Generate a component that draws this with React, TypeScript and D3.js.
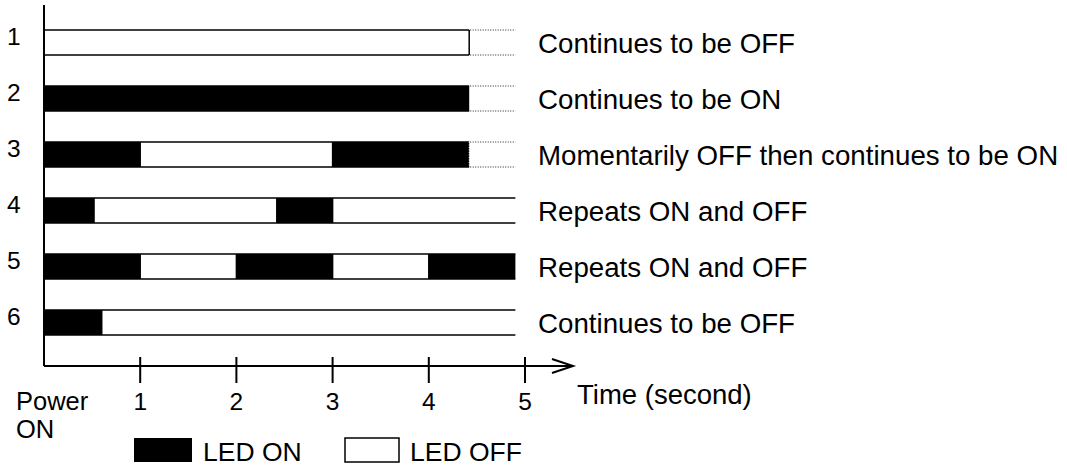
import React from 'react';
import * as d3 from 'd3';

// LED state over time after power on
type State = 'on' | 'off';
type Segment = [number, number, State]; // start sec, end sec, state

const rowLabels = ['1', '2', '3', '4', '5', '6'];

const rowDescriptions = [
  'Continues to be OFF',
  'Continues to be ON',
  'Momentarily OFF then continues to be ON',
  'Repeats ON and OFF',
  'Repeats ON and OFF',
  'Continues to be OFF',
];

const rowSegments: Segment[][] = [
  [[0, 4.42, 'off']],
  [[0, 4.42, 'on']],
  [[0, 1, 'on'], [1, 3, 'off'], [3, 4.42, 'on']],
  [[0, 0.52, 'on'], [0.52, 2.42, 'off'], [2.42, 3, 'on'], [3, 4.9, 'off']],
  [[0, 1, 'on'], [1, 2, 'off'], [2, 3, 'on'], [3, 4, 'off'], [4, 4.9, 'on']],
  [[0, 0.6, 'on'], [0.6, 4.9, 'off']],
];

// rows that "continue" past the last drawn point (dotted extension)
const continues = [true, true, true, false, false, false];
// edge drawn at the end of a continuing row
const endEdge: ('solid' | 'dotted' | 'none')[] = ['solid', 'none', 'dotted', 'none', 'none', 'none'];

const windowEnd = 4.9;
const timeTicks = [1, 2, 3, 4, 5];

const FONT = 'Liberation Sans, Arial, Helvetica, sans-serif';

export default function App() {
  const width = 1067;
  const height = 466;
  const x0 = 44;
  const axisY = 366;

  const x = d3.scaleLinear().domain([0, 5]).range([x0, 525]);
  const y = d3
    .scaleBand<string>()
    .domain(rowLabels)
    .range([30 - 15.5, 30 - 15.5 + 56 * 6])
    .paddingInner(31 / 56)
    .paddingOuter(15.5 / 56);

  const bh = y.bandwidth();

  return (
    <svg
      width={width}
      height={height}
      style={{ position: 'absolute', left: 0, top: 0, background: '#fff' }}
      fontFamily={FONT}
    >
      {rowLabels.map((lab, i) => {
        const top = y(lab)!;
        const bottom = top + bh;
        const cy = top + bh / 2;
        const segs = rowSegments[i];
        const last = segs[segs.length - 1][1];
        return (
          <g key={lab}>
            <text x={7} y={cy + 2} fontSize={24.5}>
              {lab}
            </text>
            {segs.map(([s, e, st], j) => (
              <rect
                key={j}
                x={x(s)}
                y={top}
                width={x(e) - x(s)}
                height={bh}
                fill={st === 'on' ? '#000' : '#fff'}
              />
            ))}
            {/* top / bottom edges */}
            <line x1={x(0)} x2={x(last)} y1={top} y2={top} stroke="#000" strokeWidth={1.5} />
            <line x1={x(0)} x2={x(last)} y1={bottom} y2={bottom} stroke="#000" strokeWidth={1.5} />
            {segs.slice(1).map(([s], j) => (
              <line key={'v' + j} x1={x(s)} x2={x(s)} y1={top} y2={bottom} stroke="#000" strokeWidth={1.5} />
            ))}
            {continues[i] && (
              <g stroke="#222" strokeWidth={1} strokeDasharray="1,1.5">
                <line x1={x(last) + 1} x2={x(windowEnd)} y1={top} y2={top} />
                <line x1={x(last) + 1} x2={x(windowEnd)} y1={bottom} y2={bottom} />
              </g>
            )}
            {endEdge[i] === 'solid' && (
              <line x1={x(last)} x2={x(last)} y1={top} y2={bottom} stroke="#000" strokeWidth={1.5} />
            )}
            {endEdge[i] === 'dotted' && (
              <line
                x1={x(last)}
                x2={x(last)}
                y1={top}
                y2={bottom}
                stroke="#fff"
                strokeWidth={1}
                strokeDasharray="1,1.5"
              />
            )}
            <text x={538} y={cy + 10} fontSize={27.7}>
              {rowDescriptions[i]}
            </text>
          </g>
        );
      })}

      {/* axes */}
      <line x1={x0} x2={x0} y1={5} y2={axisY} stroke="#000" strokeWidth={2} />
      <line x1={x0} x2={573} y1={axisY} y2={axisY} stroke="#000" strokeWidth={2} />
      <polyline
        points={`552,${axisY - 7} 573,${axisY} 552,${axisY + 7}`}
        fill="none"
        stroke="#000"
        strokeWidth={2}
      />
      {timeTicks.map(t => (
        <g key={t}>
          <line x1={x(t)} x2={x(t)} y1={axisY - 9} y2={axisY + 17} stroke="#000" strokeWidth={2} />
          <text x={x(t)} y={410} fontSize={24.5} textAnchor="middle">
            {t}
          </text>
        </g>
      ))}
      <text x={16} y={410} fontSize={25.5}>Power</text>
      <text x={16} y={438} fontSize={25.5}>ON</text>
      <text x={577} y={404} fontSize={27.5}>Time (second)</text>

      {/* legend */}
      <rect x={134} y={438} width={58} height={24} fill="#000" />
      <text x={203} y={461} fontSize={26.5}>LED ON</text>
      <rect x={345} y={438} width={54} height={24} fill="#fff" stroke="#000" strokeWidth={1.5} />
      <text x={410} y={461} fontSize={26.5}>LED OFF</text>
    </svg>
  );
}
